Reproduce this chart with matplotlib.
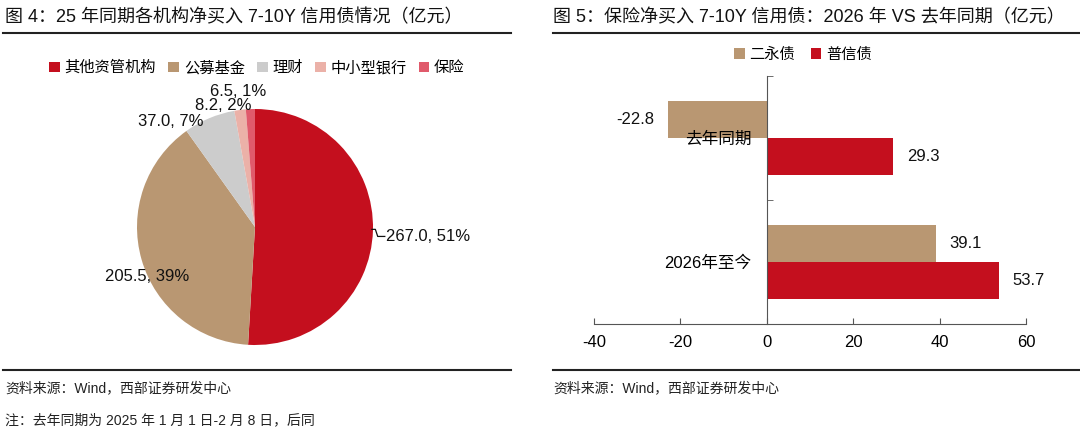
import matplotlib
matplotlib.use("Agg")
import matplotlib.pyplot as plt
from matplotlib.lines import Line2D
from matplotlib.patches import Patch
import numpy as np

plt.rcParams['font.family'] = ['Liberation Sans', 'Noto Sans CJK SC']

# ---- data ----
pie_labels = ["其他资管机构", "公募基金", "理财", "中小型银行", "保险"]
pie_values = [267.0, 205.5, 37.0, 8.2, 6.5]
pie_pcts = ["51%", "39%", "7%", "2%", "1%"]

bar_categories = ["去年同期", "2026年至今"]
bar_series = ["二永债", "普信债"]
eryong_values = [-22.8, 39.1]
puxin_values = [29.3, 53.7]
x_ticks = [-40, -20, 0, 20, 40, 60]

title_left = "图 4：25 年同期各机构净买入 7-10Y 信用债情况（亿元）"
title_right = "图 5：保险净买入 7-10Y 信用债：2026 年 VS 去年同期（亿元）"
source_text = "资料来源：Wind，西部证券研发中心"
note_text = "注：去年同期为 2025 年 1 月 1 日-2 月 8 日，后同"

# ---- style ----
pie_colors = ["#C40F1E", "#B99772", "#CCCCCC", "#EBB1A8", "#E05A6B"]
bar_colors = ["#B99772", "#C40F1E"]
W, H = 1080, 433

fig = plt.figure(figsize=(W / 100, H / 100), dpi=100)

def fx(px):
    return px / W

def fy(py):
    return 1 - py / H

# titles and rules
fig.text(fx(5), fy(18), title_left, fontsize=13, va='center', ha='left', color='#111111')
fig.text(fx(553), fy(18), title_right, fontsize=13, va='center', ha='left', color='#111111')
for x0, x1 in [(3, 511), (553, 1080)]:
    fig.add_artist(Line2D([fx(x0), fx(x1)], [fy(33), fy(33)], color='#222222', lw=1.5))
    fig.add_artist(Line2D([fx(x0), fx(x1)], [fy(370), fy(370)], color='#222222', lw=1.5))
fig.text(fx(5), fy(388), source_text, fontsize=10, va='center', ha='left', color='#222222')
fig.text(fx(553), fy(388), source_text, fontsize=10, va='center', ha='left', color='#222222')
fig.text(fx(5), fy(420), note_text, fontsize=10, va='center', ha='left', color='#222222')

# ---- pie ----
cx, cy, r = 255, 227, 118
axp = fig.add_axes([fx(cx - r), fy(cy + r), (2 * r) / W, (2 * r) / H])
wedges, _ = axp.pie(pie_values, colors=pie_colors, startangle=90, counterclock=False,
                    radius=1, wedgeprops=dict(linewidth=0))
axp.set_xlim(-1, 1)
axp.set_ylim(-1, 1)
axp.set_aspect('equal')
axp.axis('off')

label_pos = [(1.11, -0.08), (-0.91, -0.42), (-0.71, 0.89), (-0.27, 1.03), (-0.14, 1.15)]
label_ha = ['left', 'center', 'center', 'center', 'center']
for v, p, pos, ha in zip(pie_values, pie_pcts, label_pos, label_ha):
    axp.text(pos[0], pos[1], f"{v:.1f}, {p}", fontsize=12, ha=ha, va='center',
             color='#111111', clip_on=False)
# leader line for the largest slice
axp.add_line(Line2D([0.99, 1.02, 1.04, 1.10], [-0.02, -0.02, -0.08, -0.08],
                    color='#111111', lw=0.9, clip_on=False))

handles = [Patch(facecolor=c, edgecolor='none') for c in pie_colors]
fig.legend(handles, pie_labels, loc='center', bbox_to_anchor=(fx(257), fy(68)), ncol=5,
           frameon=False, fontsize=11, handlelength=0.7, handleheight=0.7,
           handletextpad=0.3, columnspacing=0.8)

# ---- bar ----
axb = fig.add_axes([fx(594), fy(324), (1026 - 594) / W, (324 - 76) / H])
y = np.arange(len(bar_categories))
h = 0.3
axb.barh(y - h / 2, eryong_values, height=h, color=bar_colors[0], label=bar_series[0], zorder=1)
axb.barh(y + h / 2, puxin_values, height=h, color=bar_colors[1], label=bar_series[1], zorder=1)
for vals, off in [(eryong_values, -h / 2), (puxin_values, h / 2)]:
    for yi, v in zip(y, vals):
        axb.annotate(f"{v:.1f}", (v, yi + off), xytext=(10 if v >= 0 else -10, 0),
                     textcoords='offset points', ha='left' if v >= 0 else 'right',
                     va='center', fontsize=12, color='#111111')
axb.set_xlim(-40, 60)
axb.set_ylim(1.5, -0.5)
axb.set_xticks(x_ticks)
axb.set_xticklabels([str(t) for t in x_ticks])
axb.set_yticks(y)
axb.set_yticklabels(bar_categories)
axb.set_yticks([-0.5, 0.5, 1.5], minor=True)
axb.tick_params(axis='y', which='major', length=0, pad=11, labelsize=12)
axb.tick_params(axis='y', which='minor', length=4, direction='in', color='#555555')
axb.tick_params(axis='x', length=4, direction='in', color='#555555', pad=8, labelsize=12)
for s in ['top', 'right']:
    axb.spines[s].set_visible(False)
axb.spines['left'].set_position(('data', 0))
axb.spines['left'].set_color('#555555')
axb.spines['bottom'].set_color('#555555')
for lab in axb.get_yticklabels():
    lab.set_zorder(5)
fig.legend(*axb.get_legend_handles_labels(), loc='center', bbox_to_anchor=(fx(803), fy(55)),
           ncol=2, frameon=False, fontsize=11, handlelength=0.7, handleheight=0.7,
           handletextpad=0.3, columnspacing=1.0)

fig.savefig("out.png", dpi=100)
